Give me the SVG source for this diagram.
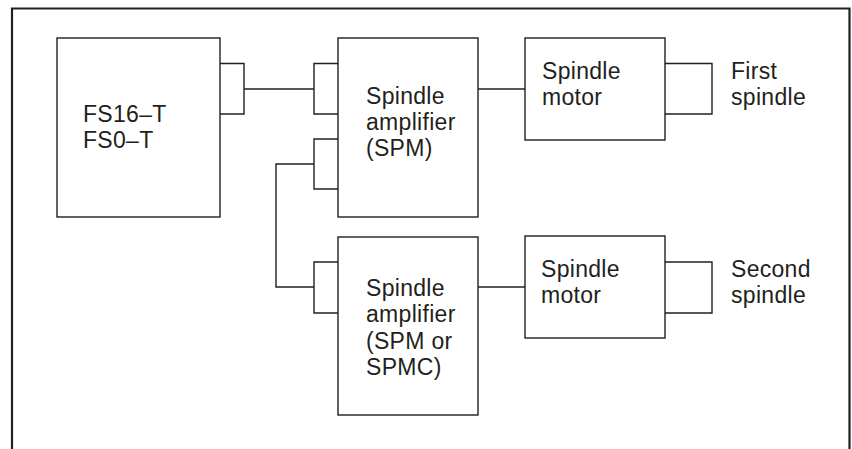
<svg xmlns="http://www.w3.org/2000/svg" width="852" height="449" viewBox="0 0 852 449">
<style>
.box{fill:none;stroke:#231f20;stroke-width:1.4}
.frame{fill:none;stroke:#231f20;stroke-width:2.2}
.conn{fill:none;stroke:#231f20;stroke-width:1.4}
text{font-family:"Liberation Sans",Arial,sans-serif;font-size:23px;letter-spacing:0.3px;fill:#231f20}
</style>
<rect width="852" height="449" fill="#ffffff"/>
<path class="frame" d="M12 449 V8.5 H849.5 V449"/>
<g id="cnc">
<rect class="box" x="57" y="38" width="163" height="179"/>
<text x="83" y="122">FS16–T</text>
<text x="83" y="148">FS0–T</text>
</g>
<g id="spm1">
<rect class="box" x="338" y="38" width="140" height="179"/>
<text x="366" y="104">Spindle</text>
<text x="366" y="130">amplifier</text>
<text x="366" y="156">(SPM)</text>
</g>
<g id="motor1">
<rect class="box" x="525" y="38" width="140" height="102"/>
<text x="542" y="79">Spindle</text>
<text x="542" y="105">motor</text>
</g>
<g id="spindle1">
<text x="731" y="79">First</text>
<text x="731" y="105">spindle</text>
</g>
<g id="spm2">
<rect class="box" x="338" y="237" width="140" height="178"/>
<text x="366" y="296">Spindle</text>
<text x="366" y="322">amplifier</text>
<text x="366" y="349">(SPM or</text>
<text x="366" y="375">SPMC)</text>
</g>
<g id="motor2">
<rect class="box" x="525" y="236" width="140" height="102"/>
<text x="541" y="277">Spindle</text>
<text x="541" y="303">motor</text>
</g>
<g id="spindle2">
<text x="731" y="277">Second</text>
<text x="731" y="303">spindle</text>
</g>
<g id="connectors">
<path class="conn" d="M220 63.5 H244 V114 H220"/>
<path class="conn" d="M338 63.5 H314 V114 H338"/>
<path class="conn" d="M244 89 H314"/>
<path class="conn" d="M338 139 H314 V189 H338"/>
<path class="conn" d="M314 164 H276 V287 H314"/>
<path class="conn" d="M338 262 H314 V313 H338"/>
<path class="conn" d="M478 89 H525"/>
<path class="conn" d="M478 287 H525"/>
<path class="conn" d="M665 63.5 H712 V114 H665"/>
<path class="conn" d="M665 262 H712 V313 H665"/>
</g>
</svg>
